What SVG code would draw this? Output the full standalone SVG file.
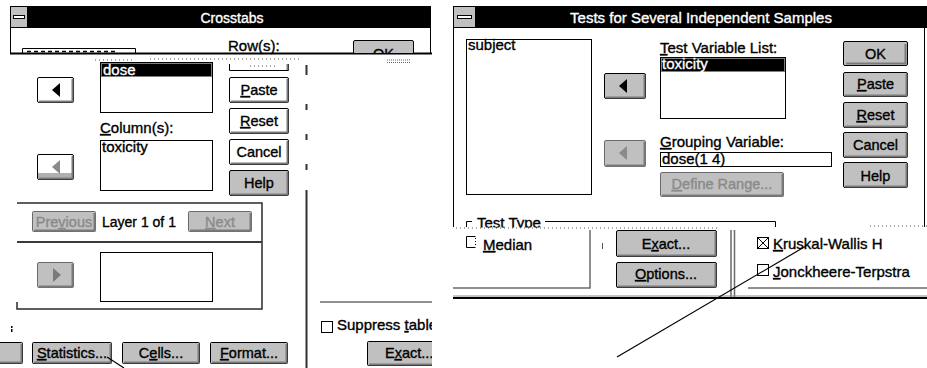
<svg xmlns="http://www.w3.org/2000/svg" width="927" height="368" viewBox="0 0 927 368">
<style>
.t{font-family:"Liberation Sans",Arial,sans-serif;font-size:15px;fill:#000;stroke:#000;stroke-width:0.35}
.b{font-size:14.5px}
.m{text-anchor:middle}
.w{fill:#fff;stroke:#fff}
.d{fill:#8a8a8a;stroke:#8a8a8a}
.u{text-decoration:underline}
.btn{fill:#c0c0c0;stroke:#000;stroke-width:1}
.btnd{fill:#c0c0c0;stroke:#6a6a6a;stroke-width:1}
.btnw{fill:#fff;stroke:#000;stroke-width:1}
.sh{fill:none;stroke:#7a7a7a;stroke-width:2}
.box{fill:#fff;stroke:#000;stroke-width:1}
.gl{fill:none;stroke:#6a6a6a;stroke-width:1.5}
.dk{fill:none;stroke:#2a2a2a;stroke-width:1.5}
.cb{fill:#fff;stroke:#000;stroke-width:1}
.conn{stroke:#000;stroke-width:1.2;fill:none}
.noise{stroke:#555;stroke-width:1;stroke-dasharray:1 3;fill:none}
</style>
<defs>
<clipPath id="okclip"><rect x="340" y="38" width="90" height="15"/></clipPath>
<clipPath id="paneclip"><rect x="308" y="54" width="124" height="314"/></clipPath>
<clipPath id="ttclip"><rect x="460" y="210" width="100" height="17.5"/></clipPath>
</defs>
<rect width="927" height="368" fill="#fff"/>

<!-- ===== Crosstabs dialog ===== -->
<g id="crosstabs-title">
<rect x="10" y="6" width="421" height="22" fill="#000"/>
<rect x="10.5" y="6.5" width="17" height="21" fill="#c0c0c0" stroke="#000"/>
<rect x="13.5" y="15.5" width="11" height="3" fill="#fff" stroke="#000"/>
<text class="t w m" x="232" y="23" style="font-size:14px">Crosstabs</text>
</g>
<g id="crosstabs-frame">
<line x1="10.5" y1="28" x2="10.5" y2="53" stroke="#000"/>
<line x1="430.5" y1="28" x2="430.5" y2="53" stroke="#000"/>
<line x1="10" y1="53.5" x2="432" y2="53.5" stroke="#000" stroke-width="2"/>
<path d="M22.5,53 V48.5 H135.5 V53" fill="none" stroke="#000"/>
<line x1="27" y1="51.5" x2="118" y2="51.5" stroke="#000" stroke-width="1.5" stroke-dasharray="4 3"/>
<line x1="95" y1="60" x2="135" y2="60" class="noise"/>
<line x1="150" y1="59" x2="300" y2="59" class="noise"/>
<line x1="387" y1="60" x2="411" y2="60" stroke="#666" stroke-dasharray="1 1"/>
<line x1="387" y1="62.5" x2="411" y2="62.5" stroke="#666" stroke-dasharray="1 1"/>
<path d="M306.5,65 V75 M306.5,104 V110 M306.5,134 V140 M306.5,164 V170 M306.5,190 V368" stroke="#333" stroke-width="2" fill="none"/>
</g>
<g id="crosstabs-rows-label"><text class="t" x="228" y="51">Row(s):</text></g>
<g id="crosstabs-ok">
<g clip-path="url(#okclip)">
<rect class="btn" x="353.5" y="40.5" width="60" height="25" rx="1.5"/>
<text class="t b m" x="383.5" y="59">OK</text>
</g>
</g>
<g id="rows-list">
<rect class="box" x="100.5" y="62.5" width="112" height="50"/>
<rect x="101" y="63" width="111" height="14" fill="#000"/>
<rect x="101.5" y="63.5" width="110" height="13" fill="none" stroke="#fff" stroke-dasharray="1 1"/>
<text class="t w" x="103" y="75">dose</text>
</g>
<g id="rows-arrow">
<rect class="btnw" x="37.5" y="77.5" width="36" height="25" rx="1.5"/>
<path class="sh" d="M39,101.5 H72.5 V79"/>
<polygon points="52,90 60,83 60,97" fill="#000"/>
</g>
<g id="crosstabs-btn-top">
<path d="M229.5,64 V70.5 H288.5 V64" fill="none" stroke="#000"/>
<line x1="287.5" y1="64" x2="287.5" y2="70" stroke="#7a7a7a" stroke-width="2"/>
<line x1="250" y1="66" x2="275" y2="66" class="noise"/>
</g>
<g id="crosstabs-paste">
<rect class="btnw" x="229.5" y="77.5" width="59" height="25" rx="1.5"/>
<path class="sh" d="M231,101.5 H287.5 V79"/>
<text class="t b m" x="259" y="95"><tspan class="u">P</tspan>aste</text>
</g>
<g id="crosstabs-reset">
<rect class="btnw" x="229.5" y="108.5" width="59" height="25" rx="1.5"/>
<path class="sh" d="M231,132.5 H287.5 V110"/>
<text class="t b m" x="259" y="126"><tspan class="u">R</tspan>eset</text>
</g>
<g id="crosstabs-cancel">
<rect class="btnw" x="229.5" y="139.5" width="59" height="25" rx="1.5"/>
<path class="sh" d="M231,163.5 H287.5 V141"/>
<text class="t b m" x="259" y="157">Cancel</text>
</g>
<g id="crosstabs-help">
<rect class="btn" x="229.5" y="170.5" width="59" height="25" rx="1.5"/>
<path class="sh" d="M231,194.5 H287.5 V172"/>
<text class="t b m" x="259" y="188">Help</text>
</g>
<g id="columns-label"><text class="t" x="100" y="133"><tspan class="u">C</tspan>olumn(s):</text></g>
<g id="columns-list">
<rect class="box" x="100.5" y="140.5" width="112" height="50"/>
<text class="t" x="102" y="152">toxicity</text>
</g>
<g id="columns-arrow">
<rect class="btnw" x="37.5" y="154.5" width="36" height="25" rx="1.5"/>
<rect x="38" y="173" width="35" height="6" fill="#b0b0b0"/>
<path class="sh" d="M39,178.5 H72.5 V156"/>
<polygon points="52,167 60,160 60,174" fill="#8a8a8a"/>
</g>
<g id="layer-group">
<path class="dk" d="M17,203 H262 V309 H17 V302"/>
<line x1="17" y1="242" x2="262" y2="242" stroke="#3a3a3a" stroke-width="2"/>
</g>
<g id="layer-previous">
<rect class="btnd" x="32.5" y="211.5" width="63" height="20" rx="1"/>
<path class="sh" d="M34,230.5 H94.5 V213"/>
<text class="t b m d" x="64" y="227">Pre<tspan class="u">v</tspan>ious</text>
</g>
<g id="layer-text"><text class="t" x="102" y="227" style="font-size:14px">Layer 1 of 1</text></g>
<g id="layer-next">
<rect class="btnd" x="188.5" y="211.5" width="63" height="20" rx="1"/>
<path class="sh" d="M190,230.5 H250.5 V213"/>
<text class="t b m d" x="220" y="227"><tspan class="u">N</tspan>ext</text>
</g>
<g id="layer-arrow">
<rect class="btnd" x="37.5" y="262.5" width="36" height="25" rx="1.5"/>
<path class="sh" d="M39,286.5 H72.5 V264"/>
<polygon points="53,268 61,275 53,282" fill="#7a7a7a"/>
</g>
<g id="layer-list"><rect class="box" x="100.5" y="252.5" width="112" height="49"/></g>
<g id="fragment"><rect x="11" y="326" width="1.5" height="2" fill="#000"/><rect x="11" y="329" width="1.5" height="3" fill="#000"/></g>
<g id="crosstabs-btn-left">
<rect class="btn" x="-3" y="342.5" width="25.5" height="21" rx="1"/>
<path class="sh" d="M0,362.5 H21.5 V344"/>
</g>
<g id="crosstabs-statistics">
<rect class="btn" x="32.5" y="342.5" width="79" height="21" rx="1"/>
<path class="sh" d="M34,362.5 H110.5 V344"/>
<text class="t b m" x="72" y="358"><tspan class="u">S</tspan>tatistics...</text>
</g>
<g id="crosstabs-cells">
<rect class="btn" x="122.5" y="342.5" width="77" height="21" rx="1"/>
<path class="sh" d="M124,362.5 H198.5 V344"/>
<text class="t b m" x="161" y="358">C<tspan class="u">e</tspan>lls...</text>
</g>
<g id="crosstabs-format">
<rect class="btn" x="210.5" y="342.5" width="77" height="21" rx="1"/>
<path class="sh" d="M212,362.5 H286.5 V344"/>
<text class="t b m" x="249" y="358"><tspan class="u">F</tspan>ormat...</text>
</g>
<g id="crosstabs-pane" clip-path="url(#paneclip)">
<line x1="320" y1="302" x2="432" y2="302" stroke="#6a6a6a" stroke-width="1.5"/>
<rect class="cb" x="321.5" y="321.5" width="11" height="11"/>
<text class="t" x="337" y="330">Suppress <tspan class="u">t</tspan>ables</text>
<rect class="btn" x="367.5" y="341.5" width="80" height="24" rx="1"/>
<path class="sh" d="M369,364.5 H446"/>
<text class="t b" x="385" y="358">E<tspan class="u">x</tspan>act...</text>
</g>

<!-- ===== Tests for Several Independent Samples dialog ===== -->
<g id="k-title">
<rect x="453" y="6" width="474" height="22" fill="#000"/>
<rect x="453.5" y="6.5" width="22" height="21" fill="#c0c0c0" stroke="#000"/>
<rect x="457.5" y="15.5" width="14" height="3" fill="#fff" stroke="#000"/>
<text class="t w m" x="701" y="23">Tests for Several Independent Samples</text>
</g>
<g id="k-frame">
<line x1="453.5" y1="28" x2="453.5" y2="227" stroke="#000"/>
<line x1="924.5" y1="28" x2="924.5" y2="227" stroke="#000"/>
<line x1="456" y1="228" x2="720" y2="228" class="noise"/>
<line x1="870" y1="226" x2="927" y2="226" class="noise"/>
</g>
<g id="k-source-list">
<rect class="box" x="466.5" y="39.5" width="125" height="155"/>
<text class="t" x="468" y="50">subject</text>
</g>
<g id="k-arrow-test">
<rect class="btn" x="604.5" y="73.5" width="41" height="25" rx="1.5"/>
<path class="sh" d="M606,97.5 H644.5 V75"/>
<polygon points="619,86 627,79 627,93" fill="#000"/>
</g>
<g id="k-arrow-group">
<rect class="btnd" x="604.5" y="140.5" width="41" height="26" rx="1.5"/>
<path class="sh" d="M606,165.5 H644.5 V142"/>
<polygon points="619,153 627,146 627,160" fill="#8a8a8a"/>
</g>
<g id="k-testvar-label"><text class="t" x="660" y="53"><tspan class="u">T</tspan>est Variable List:</text></g>
<g id="k-testvar-list">
<rect class="box" x="660.5" y="57.5" width="125" height="61"/>
<rect x="661" y="58" width="124" height="14" fill="#000"/>
<rect x="661.5" y="58.5" width="123" height="13" fill="none" stroke="#fff" stroke-dasharray="1 1"/>
<text class="t w" x="662" y="69">toxicity</text>
</g>
<g id="k-grouping-label"><text class="t" x="660" y="147"><tspan class="u">G</tspan>rouping Variable:</text></g>
<g id="k-grouping-box">
<rect class="box" x="660.5" y="152.5" width="171" height="14"/>
<text class="t" x="662" y="164">dose(1 4)</text>
</g>
<g id="k-define-range">
<rect class="btnd" x="660.5" y="172.5" width="123" height="24" rx="1.5"/>
<path class="sh" d="M662,195.5 H782.5 V174"/>
<text class="t b m d" x="722" y="189"><tspan class="u">D</tspan>efine Range...</text>
</g>
<g id="k-ok">
<rect class="btn" x="843.5" y="41.5" width="64" height="24" rx="1.5" stroke-width="2"/>
<path class="sh" d="M846,63.5 H905.5 V44"/>
<text class="t b m" x="875.5" y="59">OK</text>
</g>
<g id="k-paste">
<rect class="btn" x="843.5" y="72.5" width="64" height="24" rx="1.5"/>
<path class="sh" d="M845,95.5 H906.5 V74"/>
<text class="t b m" x="875.5" y="89"><tspan class="u">P</tspan>aste</text>
</g>
<g id="k-reset">
<rect class="btn" x="843.5" y="102.5" width="64" height="25" rx="1.5"/>
<path class="sh" d="M845,126.5 H906.5 V104"/>
<text class="t b m" x="875.5" y="120"><tspan class="u">R</tspan>eset</text>
</g>
<g id="k-cancel">
<rect class="btn" x="843.5" y="132.5" width="64" height="25" rx="1.5"/>
<path class="sh" d="M845,156.5 H906.5 V134"/>
<text class="t b m" x="875.5" y="150">Cancel</text>
</g>
<g id="k-help">
<rect class="btn" x="843.5" y="162.5" width="64" height="25" rx="1.5"/>
<path class="sh" d="M845,186.5 H906.5 V164"/>
<text class="t b m" x="875.5" y="181">Help</text>
</g>
<g id="k-testtype-group">
<path d="M466.5,227 V221.5 H472" fill="none" stroke="#000"/>
<text class="t" x="477" y="228" clip-path="url(#ttclip)">Test Type</text>
<path d="M545,221.5 H775.5 V227" fill="none" stroke="#000"/>
<path class="gl" d="M590,230 V288 H453"/>
<line x1="602.5" y1="243" x2="602.5" y2="249" stroke="#555"/>
<path class="gl" d="M731,230 V297 M734.5,230 V297 M748,288 H927"/>
<line x1="453" y1="296" x2="927" y2="296" stroke="#8a8a8a" stroke-width="1"/>
<line x1="453" y1="298" x2="927" y2="298" stroke="#000" stroke-width="2"/>
</g>
<g id="k-median">
<path d="M475.5,236.5 H466.5 V247.5 H475.5" fill="none" stroke="#000"/>
<line x1="475.5" y1="238" x2="475.5" y2="246" stroke="#000" stroke-dasharray="1 2"/>
<text class="t" x="483" y="250"><tspan class="u">M</tspan>edian</text>
</g>
<g id="k-exact">
<rect class="btn" x="616.5" y="230.5" width="100" height="26" rx="1.5"/>
<path class="sh" d="M618,255.5 H715.5 V232"/>
<text class="t b m" x="666" y="249">E<tspan class="u">x</tspan>act...</text>
</g>
<g id="k-options">
<rect class="btn" x="616.5" y="262.5" width="100" height="25" rx="1.5"/>
<path class="sh" d="M618,286.5 H715.5 V264"/>
<text class="t b m" x="666" y="279"><tspan class="u">O</tspan>ptions...</text>
</g>
<g id="k-kruskal">
<rect class="cb" x="757.5" y="237.5" width="11" height="11"/>
<path d="M757.5,237.5 L768.5,248.5 M768.5,237.5 L757.5,248.5" stroke="#000"/>
<text class="t" x="773" y="249"><tspan class="u">K</tspan>ruskal-Wallis H</text>
</g>
<g id="k-jonckheere">
<rect class="cb" x="757.5" y="264.5" width="11" height="11"/>
<text class="t" x="773" y="277"><tspan class="u">J</tspan>onckheere-Terpstra</text>
</g>

<g id="connectors">
<line class="conn" x1="806" y1="246" x2="617" y2="357"/>
<line class="conn" x1="107" y1="357" x2="124" y2="368"/>
</g>
</svg>
